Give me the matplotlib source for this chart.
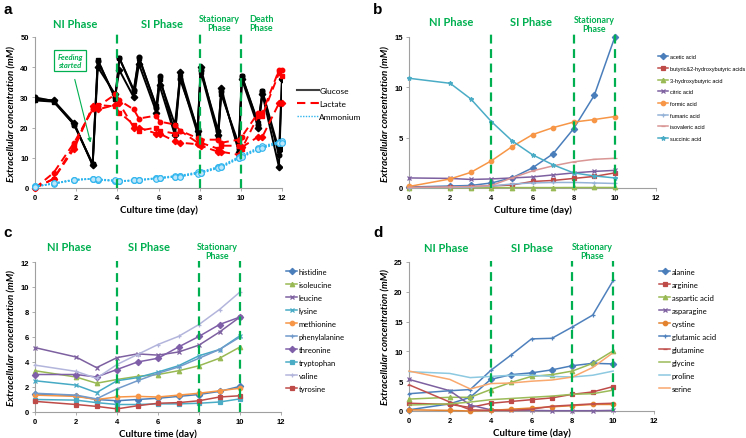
import matplotlib
matplotlib.use("Agg")
import matplotlib.pyplot as plt
from matplotlib.lines import Line2D

W, H = 746, 439
GREEN = "#00B050"

# ---------------- Panel a data ----------------
t_a = [0, 0.9, 1.9, 2.8, 3.05, 3.9, 4.1, 4.8, 5.05, 5.9, 6.05, 6.8, 7.05, 7.9, 8.05,
       8.9, 9.05, 9.9, 10.05, 10.85, 11.05, 11.85, 12.0]
glucose_r1 = [29.5, 29, 21.5, 7.5, 40, 31, 39, 30, 41, 25, 34, 17.5, 38.5, 19, 40,
              17.5, 33, 12, 36, 20, 31, 7, 36]
glucose_r2 = [30, 28.8, 21, 8, 42, 30, 43, 32.5, 43.5, 26.5, 37, 18, 36, 19.5, 39,
              19, 32, 13, 37, 21, 32, 11, 36]
glucose_r3 = [29, 28.6, 21, 7.8, 42.5, 29.5, 43, 32, 43, 27, 36, 21, 37, 18, 38.5,
              17, 31, 14.5, 37, 21.5, 32, 12.5, 13]
lactate_r1 = [0, 5, 15, 26, 27, 31, 29, 26, 23, 24, 22, 21, 19, 16.5, 16, 16, 15, 16,
              17, 25, 25, 39, 39]
lactate_r2 = [0, 3, 14, 26.5, 27.5, 27, 25, 21, 19, 20, 19, 18, 19, 15, 15, 13, 14,
              14, 13, 24, 24, 38, 37]
lactate_r3 = [0, 3, 13, 27, 26, 27.5, 28, 20, 20, 18, 18, 15.5, 15, 14.5, 14, 12, 12,
              11, 13.5, 17, 17, 28, 28]
ammonium_r1 = [0.5, 1.5, 2.7, 3.0, 2.8, 2.4, 2.2, 2.5, 2.6, 3.2, 3.3, 3.8, 3.9, 5.0,
               5.1, 6.8, 7.0, 10.0, 10.5, 13.0, 13.5, 15.0, 15.2]
ammonium_r2 = [0.6, 1.4, 2.6, 3.1, 2.7, 2.3, 2.3, 2.6, 2.7, 3.3, 3.4, 4.0, 4.1, 5.2,
               5.3, 7.0, 7.3, 10.3, 10.8, 13.3, 13.8, 15.3, 15.4]
ammonium_r3 = [0.4, 1.5, 2.8, 3.0, 2.9, 2.5, 2.2, 2.5, 2.6, 3.1, 3.2, 3.7, 3.8, 4.8,
               4.9, 6.6, 6.8, 9.8, 10.2, 12.8, 13.2, 14.8, 15.0]

# ---------------- Panel b data ----------------
t_b = [0, 2, 3, 4, 5, 6, 7, 8, 9, 10]
acids = {
    "acetic acid": [0.1, 0.2, 0.25, 0.5, 1.0, 2.0, 3.4, 5.9, 9.2, 15.0],
    "butyric&2-hydroxybutyric acids": [0.05, 0.05, 0.1, 0.2, 0.3, 0.65, 0.75, 0.95, 1.15, 1.5],
    "3-hydroxybutyric acid": [0.02, 0.02, 0.03, 0.03, 0.04, 0.04, 0.04, 0.05, 0.05, 0.05],
    "citric acid": [1.0, 0.95, 0.85, 0.9, 1.0, 1.1, 1.3, 1.5, 1.65, 1.75],
    "formic acid": [0.15, 0.9, 1.55, 2.7, 4.1, 5.3, 6.0, 6.55, 6.8, 7.1],
    "fumaric acid": [0.0, 0.05, 0.1, 0.2, 0.4, 0.5, 0.55, 0.55, 0.5, 0.45],
    "isovaleric acid": [0.05, 0.1, 0.15, 0.25, 1.0, 1.7, 2.2, 2.6, 2.85, 2.95],
    "succinic acid": [10.9, 10.4, 8.85, 6.6, 4.7, 3.3, 2.3, 1.5, 1.2, 1.0],
}
acid_colors = ["#4A7EBB", "#BE4B48", "#98B954", "#7D60A0", "#F79646", "#95B3D7",
               "#D99694", "#4BACC6"]
acid_markers = ["D", "s", "^", "x", "o", "+", "_", "*"]

# ---------------- Panel c data ----------------
aa_c = {
    "histidine": [1.45, 1.3, 1.0, 0.9, 1.0, 1.1, 1.25, 1.4, 1.65, 2.05],
    "isoleucine": [3.3, 2.8, 2.3, 2.6, 2.85, 3.0, 3.3, 3.7, 4.3, 5.2],
    "leucine": [5.15, 4.4, 3.55, 4.35, 4.65, 4.55, 4.8, 5.35, 6.4, 7.6],
    "lysine": [2.5, 2.15, 1.55, 2.5, 2.75, 3.2, 3.7, 4.5, 5.0, 6.1],
    "methionine": [1.35, 1.25, 1.0, 1.2, 1.25, 1.2, 1.35, 1.5, 1.7, 1.9],
    "phenylalanine": [1.5, 1.35, 1.05, 1.85, 2.5, 3.1, 3.6, 4.3, 5.0, 6.0],
    "threonine": [3.0, 3.0, 2.8, 3.4, 4.0, 4.3, 5.2, 6.05, 7.0, 7.6],
    "tryptophan": [1.0, 0.95, 0.75, 0.6, 0.6, 0.65, 0.65, 0.7, 0.8, 1.05],
    "valine": [3.75, 3.25, 2.7, 3.8, 4.6, 5.4, 6.05, 7.0, 8.2, 9.6],
    "tyrosine": [0.85, 0.6, 0.45, 0.25, 0.5, 0.7, 0.75, 0.9, 1.2, 1.3],
}
c_colors = ["#4A7EBB", "#98B954", "#7D60A0", "#46AAC5", "#F79646", "#729ACA",
            "#7F5FA8", "#4BACC6", "#B3B5DC", "#BE4B48"]
c_markers = ["D", "^", "x", "x", "o", "+", "D", "s", "+", "s"]

# ---------------- Panel d data ----------------
aa_d = {
    "alanine": [0.2, 1.2, 2.3, 5.3, 6.1, 6.4, 6.9, 7.6, 8.0, 7.9],
    "arginine": [1.3, 1.1, 0.6, 1.3, 1.6, 1.9, 2.2, 2.8, 3.2, 4.1],
    "aspartic acid": [2.0, 2.3, 2.3, 3.6, 4.8, 5.8, 6.1, 6.7, 8.0, 10.1],
    "asparagine": [5.3, 3.4, 1.0, 0.2, 0.1, 0.1, 0.05, 0.05, 0.05, 0.1],
    "cystine": [0.2, 0.1, 0.0, 0.1, 0.3, 0.5, 0.7, 0.9, 1.1, 1.1],
    "glutamic acid": [2.9, 3.4, 3.6, 6.8, 9.4, 12.1, 12.2, 14.1, 16.1, 21.9],
    "glutamine": [4.4, 1.5, 0.2, 0.1, 0.1, 0.3, 0.8, 1.0, 1.2, 1.3],
    "glycine": [1.0, 1.2, 1.5, 1.9, 2.1, 2.3, 2.5, 2.8, 2.9, 3.5],
    "proline": [6.6, 6.3, 5.6, 5.8, 6.0, 6.0, 5.8, 5.7, 6.0, 6.7],
    "serine": [6.7, 5.3, 3.7, 4.6, 4.7, 5.0, 5.2, 5.7, 7.3, 9.8],
}
d_colors = ["#4A7EBB", "#BE4B48", "#98B954", "#7D60A0", "#E3822F", "#4F81BD",
            "#C0504D", "#9BBB59", "#8DC9E0", "#F9A86E"]
d_markers = ["D", "s", "^", "x", "o", "+", "_", "None", "None", "None"]

LBLFONT = "Lato"

fig = plt.figure(figsize=(W / 100, H / 100), dpi=100)


def ax_px(left, top, right, bottom):
    return fig.add_axes([left / W, 1 - bottom / H, (right - left) / W, (bottom - top) / H])


def style(ax, ymax, ystep):
    ax.set_xlim(0, 12)
    ax.set_ylim(0, ymax)
    ax.set_xticks(range(0, 13, 2))
    ax.set_yticks(list(range(0, ymax + 1, ystep)))
    for s in ["top", "right"]:
        ax.spines[s].set_visible(False)
    for s in ["left", "bottom"]:
        ax.spines[s].set_color("#A0A0A0")
        ax.spines[s].set_linewidth(0.8)
    ax.tick_params(axis="both", length=2.5, width=0.6, color="#A0A0A0", pad=2)
    for lab in ax.get_xticklabels() + ax.get_yticklabels():
        lab.set_fontfamily("Liberation Sans")
        lab.set_fontweight("bold")
        lab.set_fontsize(5.5)
    ax.set_xlabel("Culture time (day)", fontfamily=LBLFONT, fontweight="bold",
                  fontsize=7, labelpad=2)
    ax.set_ylabel("Extracellular concentration (mM)", fontfamily=LBLFONT,
                  fontweight="bold", fontstyle="italic", fontsize=7, labelpad=3)
    ax.patch.set_alpha(0)


def vlines(ax, xs, ytop):
    for x in xs:
        ax.plot([x, x], [0, ytop], color=GREEN, ls=(0, (4, 2.5)), lw=1.6,
                clip_on=False, zorder=5)


def ftext(px, py, s, size=8, **kw):
    fig.text(px / W, 1 - py / H, s, ha="center", va="center", color=GREEN,
             fontfamily=LBLFONT, fontweight="bold", fontsize=size,
             linespacing=1.05, **kw)


def letter(px, py, s):
    fig.text(px / W, 1 - py / H, s, ha="left", va="center", fontfamily="Liberation Sans",
             fontweight="bold", fontsize=11, color="black")


# ---------------- Panel a ----------------
axa = ax_px(35, 38, 282, 189)
style(axa, 50, 10)
vlines(axa, [4, 8, 10], 51.5)
for ys, mk in zip([glucose_r1, glucose_r2, glucose_r3], ["D", "o", "s"]):
    axa.plot(t_a, ys, color="black", lw=1.4, marker=mk, ms=3.3, zorder=3)
for ys, mk in zip([lactate_r1, lactate_r2, lactate_r3], ["o", "s", "D"]):
    axa.plot(t_a, ys, color="#FF0000", lw=1.4, ls=(0, (4, 2.5)), marker=mk, ms=3.2,
             zorder=4, clip_on=False)
for ys in [ammonium_r1, ammonium_r2, ammonium_r3]:
    axa.plot(t_a, ys, color="#2FB5EE", lw=1.2, ls=(0, (1, 1)), marker="o", ms=4,
             mfc="#BDE6FA", mec="#2FB5EE", mew=0.8, zorder=4, clip_on=False)
axa.annotate("Feeding\nstarted", xy=(2.7, 15.0), xytext=(1.7, 42.3),
             ha="center", va="center", fontsize=5.5, fontstyle="italic",
             fontweight="bold", color=GREEN, fontfamily=LBLFONT,
             bbox=dict(boxstyle="square,pad=0.4", fc="white", ec=GREEN, lw=0.9),
             arrowprops=dict(arrowstyle="-|>", color=GREEN, lw=0.8,
                             mutation_scale=6, shrinkA=6, shrinkB=0))
handles_a = [Line2D([], [], color="#404040", lw=1.5),
             Line2D([], [], color="#FF0000", lw=1.5, ls=(0, (4, 2.5))),
             Line2D([], [], color="#2FB5EE", lw=1.0, ls=(0, (1, 1)))]
axa.legend(handles_a, ["Glucose", "Lactate", "Ammonium"], loc="upper left",
           bbox_to_anchor=(1.03, 0.72), frameon=False, handlelength=2.6,
           handletextpad=0.1, labelspacing=0.75,
           prop=dict(family=LBLFONT, size=6))
ftext(75, 24, "NI Phase")
ftext(162, 24, "SI Phase")
ftext(219, 24, "Stationary\nPhase", 6.4)
ftext(261, 24, "Death\nPhase", 6.4)
letter(3, 10, "a")

# ---------------- Panel b ----------------
axb = ax_px(409, 38, 656, 189)
style(axb, 15, 5)
vlines(axb, [4, 8, 10], 15.3)
hb = []
for (name, ys), c, mk in zip(acids.items(), acid_colors, acid_markers):
    ln, = axb.plot(t_b, ys, color=c, lw=1.1, marker=mk, ms=3.2, mew=0.9,
                   clip_on=False, zorder=3)
    hb.append(ln)
axb.legend(hb, list(acids.keys()), loc="upper left", bbox_to_anchor=(1.01, 0.885),
           frameon=False, handlelength=1.8, handletextpad=0.25, labelspacing=1.2,
           borderaxespad=0, borderpad=0,
           prop=dict(family="Liberation Sans", size=4.0))
ftext(451, 23, "NI Phase")
ftext(531, 23, "SI Phase")
ftext(594, 25, "Stationary\nPhase", 6.4)
letter(373, 10, "b")

# ---------------- Panel c ----------------
axc = ax_px(35, 263, 281, 413)
style(axc, 12, 2)
vlines(axc, [4, 8, 10], 12.1)
hc = []
for (name, ys), c, mk in zip(aa_c.items(), c_colors, c_markers):
    ln, = axc.plot(t_b, ys, color=c, lw=1.1, marker=mk, ms=3.2, mew=0.9,
                   clip_on=False, zorder=3)
    hc.append(ln)
axc.legend(hc, list(aa_c.keys()), loc="upper left", bbox_to_anchor=(1.02, 0.96),
           frameon=False, handlelength=1.5, handletextpad=0.2, labelspacing=0.78,
           borderaxespad=0, borderpad=0, prop=dict(family=LBLFONT, size=5.5))
ftext(69, 248, "NI Phase")
ftext(149, 248, "SI Phase")
ftext(217, 252, "Stationary\nPhase", 6.4)
letter(3, 233, "c")

# ---------------- Panel d ----------------
axd = ax_px(409, 263, 654, 412)
style(axd, 25, 5)
vlines(axd, [4, 8, 10], 25.2)
hd = []
for (name, ys), c, mk in zip(aa_d.items(), d_colors, d_markers):
    ln, = axd.plot(t_b, ys, color=c, lw=1.1, marker=mk, ms=3.2, mew=0.9,
                   clip_on=False, zorder=3)
    hd.append(ln)
axd.legend(hd, list(aa_d.keys()), loc="upper left", bbox_to_anchor=(1.02, 0.96),
           frameon=False, handlelength=1.5, handletextpad=0.2, labelspacing=0.78,
           borderaxespad=0, borderpad=0, prop=dict(family=LBLFONT, size=5.5))
ftext(446, 249, "NI Phase")
ftext(532, 249, "SI Phase")
ftext(592, 252, "Stationary\nPhase", 6.4)
letter(373, 233, "d")

fig.savefig("out.png", dpi=100)
